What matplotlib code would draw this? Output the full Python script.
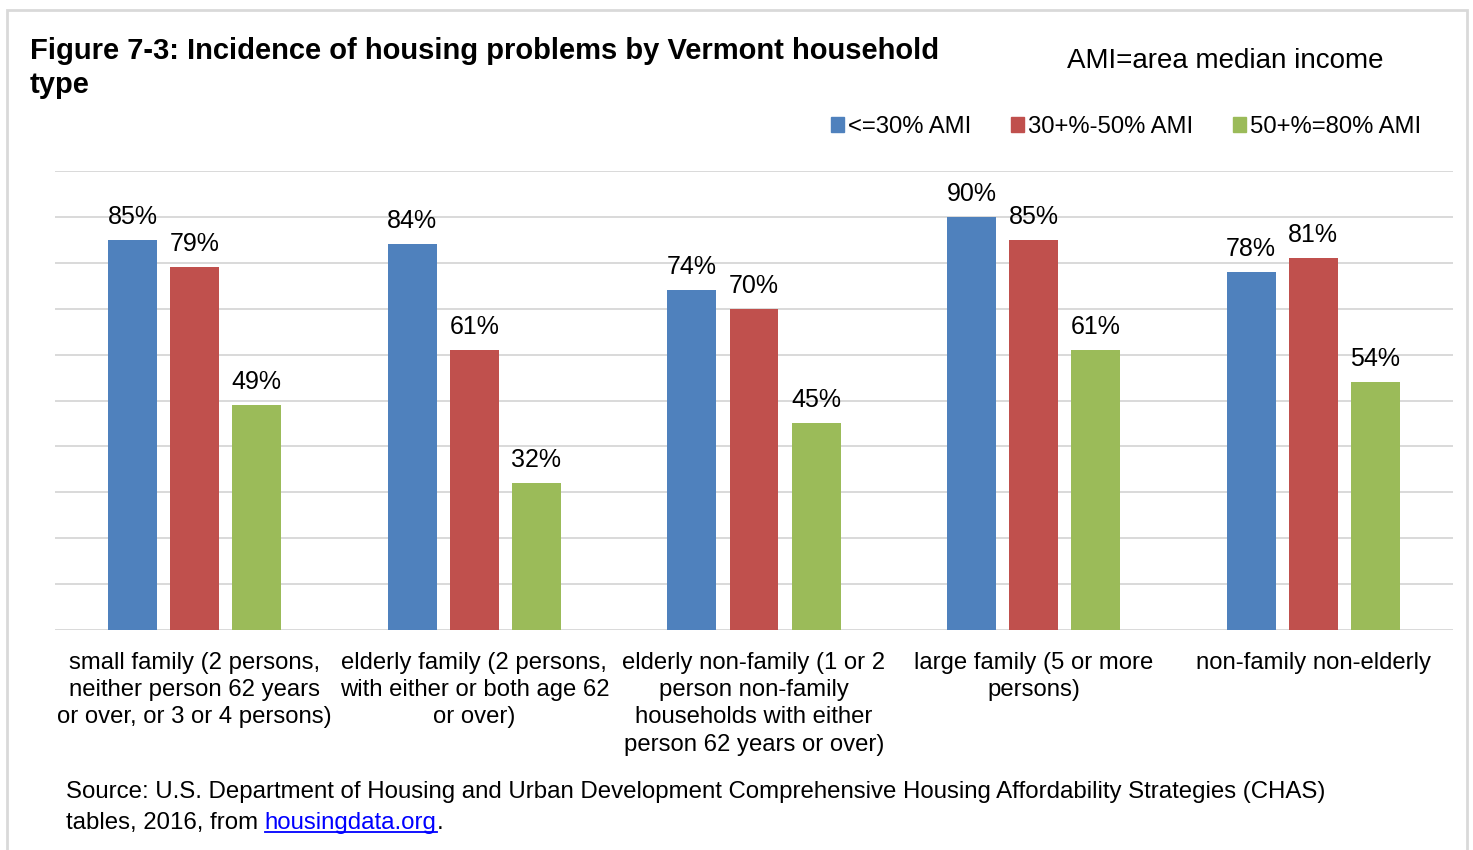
import matplotlib
matplotlib.use("Agg")
import matplotlib.pyplot as plt
import numpy as np
from matplotlib.patches import Rectangle, Patch
from matplotlib.lines import Line2D

plt.rcParams['font.family'] = ['Liberation Sans', 'DejaVu Sans']

categories = [
    "small family (2 persons,\nneither person 62 years\nor over, or 3 or 4 persons)",
    "elderly family (2 persons,\nwith either or both age 62\nor over)",
    "elderly non-family (1 or 2\nperson non-family\nhouseholds with either\nperson 62 years or over)",
    "large family (5 or more\npersons)",
    "non-family non-elderly",
]
series_names = ["<=30% AMI", "30+%-50% AMI", "50+%=80% AMI"]
ami_30 = [85, 84, 74, 90, 78]
ami_50 = [79, 61, 70, 85, 81]
ami_80 = [49, 32, 45, 61, 54]
colors = ["#4F81BD", "#C0504D", "#9BBB59"]

W, H = 1473, 850
fig = plt.figure(figsize=(W / 100, H / 100), dpi=100)
fig.patch.set_facecolor("white")

# outer frame
fig.add_artist(Rectangle((7 / W, -0.05), (1467 - 7) / W, 1 - 10 / H + 0.05,
                         transform=fig.transFigure, fill=False,
                         edgecolor="#d9d9d9", linewidth=2))

ax = fig.add_axes([55 / W, 1 - 630 / H, (1453 - 55) / W, (630 - 171) / H])
x = np.arange(len(categories))
step, width = 0.222, 0.175
for k, (vals, col) in enumerate(zip([ami_30, ami_50, ami_80], colors)):
    pos = x + (k - 1) * step
    bars = ax.bar(pos, vals, width=width, color=col, zorder=3)
    for b, v in zip(bars, vals):
        ax.annotate(f"{v}%", (b.get_x() + b.get_width() / 2, v),
                    xytext=(0, 8), textcoords="offset points",
                    ha="center", va="bottom", fontsize=18, color="black")

ax.set_xlim(-0.5, len(categories) - 0.5)
ax.set_ylim(0, 100)
ax.set_yticks(np.arange(0, 101, 10))
ax.set_yticklabels([])
ax.tick_params(axis="y", length=0)
ax.grid(axis="y", color="#d9d9d9", linewidth=1.4, zorder=0)
for s in ax.spines.values():
    s.set_visible(False)
ax.set_xticks(x)
ax.set_xticklabels(categories, fontsize=17.2, linespacing=1.32)
ax.tick_params(axis="x", length=0, pad=15.5)

# title and notes
fig.text(30 / W, 1 - 37 / H, "Figure 7-3: Incidence of housing problems by Vermont household\ntype",
         fontsize=21, fontweight="bold", ha="left", va="top", linespacing=1.28)
fig.text(1067 / W, 1 - 61 / H, "AMI=area median income", fontsize=20,
         ha="left", va="center")

handles = [Patch(facecolor=c, edgecolor=c) for c in colors]
fig.legend(handles, series_names, loc="center left",
           bbox_to_anchor=(831 / W, 1 - 127 / H), ncol=3, frameon=False,
           fontsize=17.2, handlelength=0.55, handleheight=0.55,
           handletextpad=0.15, columnspacing=1.68, borderaxespad=0, borderpad=0)

fig.text(66 / W, 1 - 792 / H,
         "Source: U.S. Department of Housing and Urban Development Comprehensive Housing Affordability Strategies (CHAS)",
         fontsize=17.3, ha="left", va="center")
t1 = fig.text(66 / W, 1 - 823 / H, "tables, 2016, from ", fontsize=17.3,
              ha="left", va="center")
fig.canvas.draw()
r = fig.canvas.get_renderer()
e1 = t1.get_window_extent(r)
t2 = fig.text(e1.x1 / W, 1 - 823 / H, "housingdata.org", fontsize=17.3,
              ha="left", va="center", color="#0000FF")
fig.canvas.draw()
e2 = t2.get_window_extent(r)
fig.text(e2.x1 / W, 1 - 823 / H, ".", fontsize=17.3, ha="left", va="center")
uy = (e2.y0 + 2) / H
fig.add_artist(Line2D([e2.x0 / W, e2.x1 / W], [uy, uy], transform=fig.transFigure,
                      color="#0000FF", linewidth=1.3))

fig.savefig("out.png", dpi=100, facecolor="white")
